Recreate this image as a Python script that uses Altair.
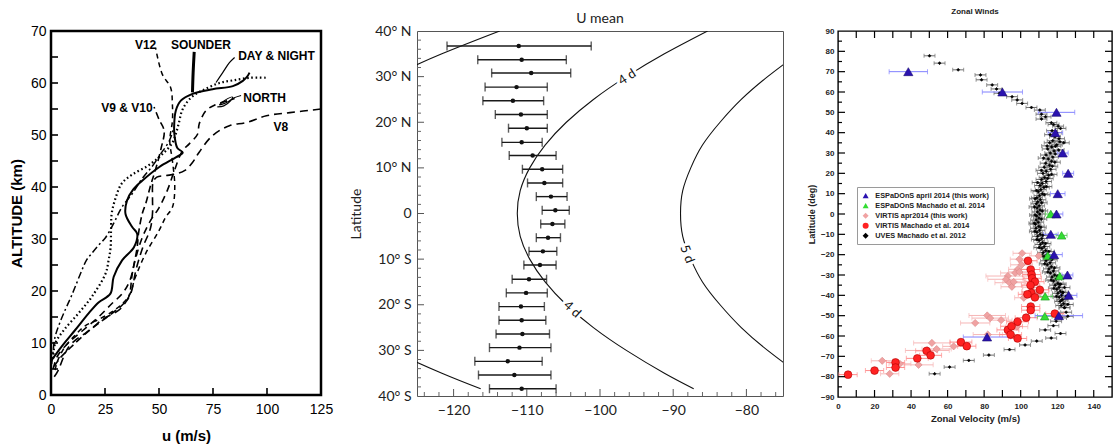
import altair as alt
import pandas as pd

# ---------------------------------------------------------------------------
# Panel 1: probe wind profiles, u (m/s) against altitude (km)
# ---------------------------------------------------------------------------
PROFILE_V8 = [(1.5, 3.5), (3.4, 4.8), (6, 7.5), (8.1, 9.2), (12, 10.8), (16, 11.9), (20, 13.2),
              (23.4, 14.4), (28, 15.5), (31.4, 16.3), (34.5, 17.8), (37, 19.6), (39.3, 24),
              (42.5, 28.4), (46, 32), (47, 35), (47, 38), (47.3, 41), (49, 41.9), (53.1, 42.2),
              (57.8, 42.5), (62, 43.2), (65.5, 44.7), (68.6, 46.7), (74.8, 49.9), (82.6, 51.8),
              (90.4, 52.4), (99.7, 53.7), (110.6, 54.3), (125, 55)]
PROFILE_V12 = [(1.9, 4.8), (3, 6.5), (6.5, 9.3), (10, 11), (15.8, 13.3), (22, 14.5), (30, 16.5),
               (36, 19), (39.1, 22.7), (43.8, 27.2), (50, 31.6), (53.1, 34.2), (56.2, 36.1),
               (57.3, 40), (56.2, 45.1), (55, 48.9), (56.2, 52.7), (56.2, 55.9), (55.4, 59.1),
               (51.5, 61.7), (48.4, 66.8)]
PROFILE_V9_V10 = [(1.5, 5.5), (4, 7), (10, 9.5), (18, 12.5), (26, 15), (33, 17.3), (36, 18.9),
                  (37.6, 23.3), (39.9, 28.4), (40.5, 31), (42.2, 34.8), (44, 37), (46.1, 40.3),
                  (48.5, 43.5), (51, 47.5), (52.4, 50.8), (50, 53), (47.7, 55.4)]
PROFILE_NORTH = [(1, 5), (3, 7.5), (8, 10), (15, 12.5), (22, 15), (28, 17.5), (33, 19.5),
                 (36.5, 22), (39, 26), (42, 30), (46, 33.5), (50, 36), (54, 39.5), (57, 43),
                 (60.9, 47), (64, 48.3), (67.9, 50.2), (68.6, 52.1), (71.8, 54.7), (76, 55.8),
                 (81.8, 56.6), (85, 57)]
PROFILE_DAY_NIGHT = [(1, 7), (1.9, 9.9), (6, 12.5), (12.7, 15.7), (18.9, 18.9), (25.2, 23.3),
                     (26.7, 26), (27.6, 28.4), (27.8, 32), (28.1, 34.9), (30, 38), (32.8, 40.7),
                     (38, 42.5), (45.3, 44.2), (52, 46.5), (56.2, 48.5), (58, 50.5), (59.3, 52.5),
                     (60.5, 54.5), (62.4, 56), (66, 57.6), (71.7, 58.9), (78, 60), (84.2, 60.5),
                     (92, 61), (100.5, 61)]
PROFILE_DASHDOT = [(0.3, 6), (1, 8.5), (1.9, 11.2), (4, 13.8), (6.5, 16.3), (9, 18.6), (11.2, 20.8),
                   (14.3, 24), (16.5, 26), (18.8, 27.2), (22, 28.8), (25.3, 30.3), (29, 33),
                   (32.8, 36.1), (37.6, 38.7), (42, 41.5), (46.9, 44), (51, 46.5), (54.7, 48.8),
                   (57, 51.5)]
PROFILE_SOLID = [(0.3, 6.7), (4.9, 9.3), (11.2, 12.5), (17.4, 15.7), (22, 17.8), (27.5, 19.5),
                 (29, 22.7), (32.9, 25.9), (38.4, 28.4), (39.9, 31), (37.6, 32.3), (34.5, 34.8),
                 (35.2, 37.4), (38, 39.5), (42.2, 41.2), (50, 43.8), (57.8, 45.7), (61, 46.6),
                 (58.5, 47.5), (57.3, 49.5), (57, 51.5), (57.8, 54.7), (60.1, 56.6), (65.5, 57.9),
                 (74.8, 58.8), (84.2, 59.4), (88.8, 60.4), (91.1, 61.4), (91.9, 62)]
PROFILE_SOUNDER = [(65.5, 58.2), (65.8, 62), (66.3, 66)]
LEADER_DAY_NIGHT = [(76.4, 60.1), (79.5, 62), (82.6, 63.9), (85, 64.9)]
LEADER_NORTH = [(77, 55.4), (80, 55.6), (83, 56.5), (84, 57.3), (81, 56.8), (78, 55.8), (81.5, 56.3),
                (84.5, 57.1), (88, 57.6)]

P1_LABELS = ["V12", "SOUNDER", "DAY & NIGHT", "V9 & V10", "NORTH", "V8"]
P1_LABEL_U = [43.8, 69.4, 104.4, 35.2, 98.9, 106.4]
P1_LABEL_ALT = [67.3, 67.3, 65.2, 55.2, 57.2, 51.5]

P1_X_TICKS = [0, 25, 50, 75, 100, 125]
P1_Y_TICKS = [0, 10, 20, 30, 40, 50, 60, 70]

# ---------------------------------------------------------------------------
# Panel 2: mean zonal wind by latitude with rotation-period contours
# ---------------------------------------------------------------------------
P2_LAT = [36.7, 33.7, 30.8, 27.7, 24.7, 21.7, 18.7, 15.6, 12.7, 9.7, 6.7, 3.7, 0.7, -2.3, -5.3,
          -8.3, -11.3, -14.4, -17.4, -20.4, -23.4, -26.4, -29.4, -32.4, -35.4, -38.4]
P2_U = [-111.1, -110.7, -109.4, -111.4, -111.9, -110.8, -110.0, -110.7, -109.2, -107.9, -107.6,
        -106.7, -106.1, -106.5, -107.1, -107.8, -108.2, -109.7, -110.1, -110.8, -110.7, -110.6,
        -111.0, -112.6, -111.7, -110.7]
P2_U_LO = [-120.9, -116.7, -114.8, -115.7, -116.0, -114.3, -112.5, -113.4, -112.4, -110.6, -109.9,
           -108.7, -107.9, -108.1, -108.7, -109.7, -110.4, -112.0, -112.8, -113.8, -113.8, -114.2,
           -115.1, -117.1, -116.6, -115.1]
P2_U_HI = [-101.2, -104.6, -104.0, -107.2, -107.7, -107.2, -107.2, -107.9, -106.0, -105.1, -105.1,
           -104.5, -104.2, -104.8, -105.4, -105.9, -106.0, -107.3, -107.2, -107.6, -107.4, -106.9,
           -106.7, -107.9, -106.7, -106.0]

CONTOUR_LAT = [-38.4, -35, -30, -25, -20, -15, -10, -5, 0, 5, 10, 15, 20, 25, 30, 35, 40]
CONTOUR_3D = [-116.3, -121.6, -128.5, -134.5, -139.5, -143.3, -146.1, -147.8, -148.4, -147.8,
              -146.1, -143.3, -139.5, -134.5, -128.5, -121.6, -113.7]
CONTOUR_4D = [-87.2, -91.2, -96.4, -100.9, -104.6, -107.5, -109.6, -110.9, -111.3, -110.9, -109.6,
              -107.5, -104.6, -100.9, -96.4, -91.2, -85.3]
CONTOUR_5D = [-69.7, -72.9, -77.1, -80.7, -83.6, -86.0, -87.6, -88.7, -89.0, -88.7, -87.6, -86.0,
              -83.6, -80.7, -77.1, -72.9, -68.2]

CONTOUR_LABELS = ["4 d", "4 d", "5 d"]
CONTOUR_LABEL_U = [-96.3, -103.8, -88.1]
CONTOUR_LABEL_LAT = [29.9, -21.0, -8.9]
CONTOUR_LABEL_ANGLE = [327, 42, 69]

# ---------------------------------------------------------------------------
# Panel 3: zonal winds against latitude from several data sets (u, lat, error)
# ---------------------------------------------------------------------------
ESPADONS_2014 = [(38.5, 70, 10.5), (90, 60, 11), (119.6, 50, 10), (119, 40, 4), (123, 30, 3),
                 (126, 20, 3), (120.3, 10, 4), (119.6, 0, 3.5), (116.5, -10, 4), (118.3, -20, 4.5),
                 (125.6, -30, 3), (126.3, -40, 4.5), (120.9, -50, 13), (81.6, -60.5, 13)]
ESPADONS_MACHADO = [(116.5, 0, 3), (122.4, -10.5, 3), (114.8, -20.5, 3), (121.4, -30.5, 3),
                    (113.4, -40.5, 4), (113.2, -50.3, 4)]
VIRTIS_APR2014 = [(24.2, -72.2, 6), (28.3, -78.6, 5), (33.9, -73.7, 6), (44.1, -74.2, 8),
                  (48.9, -67.1, 12), (51.4, -63.4, 10), (54, -66.4, 8), (63.3, -65.1, 6),
                  (75.1, -53.6, 8), (81.7, -49.9, 10), (83.3, -51.2, 10), (82, -59.3, 8),
                  (89.3, -52.2, 6), (97.9, -55.4, 6), (93, -30.5, 12), (92, -32.1, 10),
                  (93.9, -33.8, 8), (95.2, -35.8, 6), (96.2, -33.4, 6), (98.4, -27.2, 5),
                  (99.3, -22.2, 5), (100.8, -19.3, 5), (109.9, -20.6, 5), (110.3, -38.7, 5),
                  (106.6, -38.1, 6), (101.7, -41.2, 5), (97, -29, 8), (100.5, -25, 6),
                  (99.3, -28.5, 6), (106, -36, 5)]
VIRTIS_MACHADO = [(5.5, -79, 5), (20, -77, 5), (31.5, -73, 5), (31.5, -75.5, 5), (43.4, -71, 6),
                  (48.5, -67.3, 6), (50.7, -69.5, 6), (67.3, -63, 6), (70.5, -65, 5), (93, -57, 6),
                  (94.5, -59.3, 6), (98.3, -61.2, 5), (98.3, -53, 6), (95, -55.2, 6), (103, -51, 6),
                  (118.7, -49, 5), (105.5, -45.5, 5), (105.5, -47.3, 5), (104, -23, 5),
                  (105.5, -27.3, 5), (106, -29.8, 5), (106.3, -31.6, 5), (107.8, -33.3, 5),
                  (105.4, -35, 5), (110.5, -37.3, 5), (105.8, -38.8, 5), (107.8, -41, 5),
                  (103.7, -39.5, 5)]
UVES_HIGH = [(50.1, 77.8), (55.6, 74.2), (65.8, 70.9), (78, 68.4), (78.6, 66), (84.4, 63.5),
             (86.8, 61.5), (88.4, 59.4), (95.3, 57.7), (98.1, 56.1), (100.8, 54.4), (105.9, 52.4),
             (110.5, 51.1), (111.4, 49.1), (111.4, 46.7), (113.6, 47.8), (116.8, 44.9),
             (120.5, 43.2), (121.8, 42.1), (118, 44), (123.6, 35), (119, 33.3)]
UVES_EQUATORIAL_LAT = [41, 40, 39, 38, 37, 36, 35, 34, 33, 32, 31, 30, 29, 28, 27, 26, 25, 24, 23,
                       22, 21, 20, 19, 18, 17, 16, 15, 14, 13, 12, 11, 10, 9, 8, 7, 6, 5, 4, 3, 2,
                       1, 0, -1, -2, -3, -4, -5, -6, -7, -8, -9, -10, -11, -12, -13, -14, -15, -16,
                       -17, -18, -19, -20, -21, -22, -23, -24, -25, -26, -27, -28, -29, -30, -31,
                       -32, -33, -34, -35, -36, -37, -38, -39, -40, -41, -42, -43, -44, -45, -46]
UVES_EQUATORIAL_U = [117.2, 119.5, 116.1, 118.8, 121.0, 117.5, 115.9, 119.8, 117.0, 114.8, 118.3,
                     116.2, 113.9, 117.6, 115.1, 116.9, 113.7, 115.8, 112.9, 116.4, 114.0, 112.2,
                     115.3, 113.1, 111.4, 113.9, 111.8, 110.6, 112.7, 111.0, 109.7, 111.9, 110.3,
                     108.9, 110.8, 109.4, 108.6, 110.1, 109.0, 110.6, 109.2, 110.4, 108.8, 110.0,
                     108.5, 109.6, 108.1, 109.9, 108.4, 110.3, 108.9, 110.7, 109.3, 111.5, 110.1,
                     112.0, 110.8, 112.9, 111.6, 113.7, 112.3, 114.5, 113.0, 115.2, 113.9, 116.1,
                     114.6, 116.8, 115.5, 117.9, 116.3, 118.6, 117.2, 119.4, 118.0, 120.3, 118.9,
                     121.0, 119.8, 121.7, 120.4, 122.4, 121.1, 123.0, 121.6, 123.5, 122.2, 124.0]
UVES_SCATTER_LAT = [35.5, 33.5, 31.5, 29.5, 27.5, 25.5, 23.5, 21.5, 19.5, 17.5, 15.5, 13.5, 11.5,
                    9.5, 7.5, 5.5, 3.5, 1.5, -0.5, -2.5, -4.5, -6.5, -8.5, -10.5, -12.5, -14.5,
                    -16.5, -18.5, -20.5, -22.5, -24.5, -26.5, -28.5, -30.5, -32.5, -34.5, -36.5,
                    -38.5, -40.5]
UVES_SCATTER_U = [121.5, 114.5, 120.8, 118.9, 112.6, 118.7, 117.3, 111.4, 116.9, 114.8, 109.3,
                  114.1, 108.7, 113.0, 107.9, 111.5, 107.6, 111.8, 107.9, 111.3, 107.5, 111.0,
                  107.8, 112.1, 108.9, 113.6, 110.2, 115.4, 111.9, 117.0, 113.2, 118.5, 114.9,
                  120.1, 116.7, 121.9, 118.2, 123.1, 119.6]
UVES_LOW = [(52.9, -78.6), (61.1, -75.3), (71.6, -72), (82.6, -69.4), (93.9, -66.7), (102.4, -64.4),
            (108.8, -62.5), (116.7, -61), (121.8, -58.8), (113.4, -57), (117.9, -54.9),
            (119.4, -52.7), (122.1, -51.1), (125.8, -50.3), (124.9, -48.3), (124, -46.1),
            (125.8, -44.5), (122.5, -42.3), (124.9, -40.4), (123, -38.7), (124, -36.2),
            (121.2, -34.6)]
UVES_ERROR = 3.0

SERIES = ["ESPaDOnS april 2014 (this work)", "ESPaDOnS Machado et al. 2014",
          "VIRTIS apr2014 (this work)", "VIRTIS Machado et al. 2014", "UVES Machado et al. 2012"]
SERIES_FILL = ["#2a12b0", "#33dd33", "#f0a2a2", "#ff2222", "#000000"]
SERIES_STROKE = ["#1a0a70", "#1f9a1f", "#d88888", "#b00000", "#000000"]
SERIES_SHAPE = ["triangle-up", "triangle-up", "diamond", "circle", "diamond"]
SERIES_SIZE = [85, 75, 52, 60, 9]
SERIES_BAR = ["#8080ff", "#55cc55", "#f6b6b6", "#ff8c8c", "#6e6e6e"]

# ---------------------------------------------------------------------------
# geometry and fonts
# ---------------------------------------------------------------------------
W1, H1 = 270, 364
W2, H2 = 366, 365
W3, H3 = 274, 366
FONT1 = "Liberation Sans"
FONT2 = "Lato"
FONT3 = "Liberation Sans"


def path_frame(points, name):
    return pd.DataFrame({"u": [p[0] for p in points], "alt": [p[1] for p in points],
                         "k": list(range(len(points))), "name": name})


# ======================= panel 1 =======================
x1 = alt.Scale(domain=[0, 125], nice=False, zero=False)
y1 = alt.Scale(domain=[0, 70], nice=False, zero=False)
x1_axis = alt.Axis(values=P1_X_TICKS, ticks=False, domain=False, grid=False, labelFlush=False,
                   labelFont=FONT1, labelFontSize=14, labelColor="#000", labelPadding=7,
                   title="u (m/s)", titleFont=FONT1, titleFontSize=15, titleFontWeight="bold",
                   titleColor="#000", titlePadding=12)
y1_axis = alt.Axis(values=P1_Y_TICKS, ticks=False, domain=False, grid=False, labelFlush=False,
                   labelFont=FONT1, labelFontSize=14, labelColor="#000", labelPadding=5,
                   title="ALTITUDE (km)", titleFont=FONT1, titleFontSize=15,
                   titleFontWeight="bold", titleColor="#000", titlePadding=6)


def X1(field):
    return alt.X(field, scale=x1, axis=x1_axis)


def Y1(field):
    return alt.Y(field, scale=y1, axis=y1_axis)


def profile(points, name, width, dash=None):
    kw = dict(color="black", strokeWidth=width, interpolate="catmull-rom", clip=True)
    if dash is not None:
        kw["strokeDash"] = dash
    return alt.Chart(path_frame(points, name)).mark_line(**kw).encode(
        x=X1("u:Q"), y=Y1("alt:Q"), order=alt.Order("k:Q"))


p1_lines = [
    profile(PROFILE_SOLID, "solid", 2.0),
    profile(PROFILE_V8, "V8", 1.6, [8, 5]),
    profile(PROFILE_V12, "V12", 1.5, [5, 4]),
    profile(PROFILE_V9_V10, "V9 & V10", 1.6, [7, 4]),
    profile(PROFILE_NORTH, "NORTH", 1.6, [7, 5]),
    profile(PROFILE_DAY_NIGHT, "DAY & NIGHT", 2.2, [1.6, 2.6]),
    profile(PROFILE_DASHDOT, "dash-dot", 1.5, [7, 3, 2, 3]),
    profile(PROFILE_SOUNDER, "SOUNDER", 3.0),
    profile(LEADER_DAY_NIGHT, "leader day", 1.2),
    profile(LEADER_NORTH, "leader north", 1.1),
]

p1_text = alt.Chart(pd.DataFrame({"t": P1_LABELS, "u": P1_LABEL_U, "alt": P1_LABEL_ALT})).mark_text(
    font=FONT1, fontSize=12, fontWeight="bold", color="black", align="center", baseline="middle"
).encode(x=X1("u:Q"), y=Y1("alt:Q"), text="t:N")

p1_ticks_left = alt.Chart(pd.DataFrame({"alt": [5, 10, 15, 20, 25, 30, 35, 40, 45, 50, 55, 60, 65]})).mark_rule(
    color="black", strokeWidth=1.6
).encode(y=Y1("alt:Q"), x=alt.value(0), x2=alt.value(7))
p1_ticks_bottom = alt.Chart(pd.DataFrame({"u": [25, 50, 75, 100]})).mark_rule(
    color="black", strokeWidth=1.6
).encode(x=X1("u:Q"), y=alt.value(H1), y2=alt.value(H1 - 7))

panel1 = alt.layer(*p1_lines, p1_text, p1_ticks_left, p1_ticks_bottom).properties(
    width=W1, height=H1, view=alt.ViewBackground(stroke="black", strokeWidth=2.5)
)

# ======================= panel 2 =======================
x2 = alt.Scale(domain=[-125, -75], nice=False, zero=False)
y2 = alt.Scale(domain=[-40, 40], nice=False, zero=False)
x2_axis = alt.Axis(values=[-120, -110, -100, -90, -80], ticks=False, domain=False, grid=False,
                   labelFlush=False, labelFont=FONT2, labelFontSize=14, labelColor="#222",
                   labelPadding=7, title=None)
y2_axis = alt.Axis(values=[-40, -30, -20, -10, 0, 10, 20, 30, 40], ticks=False, domain=False,
                   grid=False, labelFlush=False, labelOverlap=False, labelFont=FONT2,
                   labelFontSize=14, labelColor="#222", labelPadding=6,
                   labelExpr="datum.value == 0 ? '0' : abs(datum.value) + '\u00b0 ' + (datum.value > 0 ? 'N' : 'S')",
                   title="Latitude", titleFont=FONT2, titleFontSize=14, titleFontWeight="normal",
                   titleColor="#222", titlePadding=11)


def X2(field):
    return alt.X(field, scale=x2, axis=x2_axis)


def Y2(field):
    return alt.Y(field, scale=y2, axis=y2_axis)


contour_rows = []
for period, values in (("3 d", CONTOUR_3D), ("4 d", CONTOUR_4D), ("5 d", CONTOUR_5D)):
    for k, (lat, u) in enumerate(zip(CONTOUR_LAT, values)):
        contour_rows.append({"period": period, "lat": lat, "u": u, "k": k})
contours = alt.Chart(pd.DataFrame(contour_rows)).mark_line(
    color="#111", strokeWidth=1.1, interpolate="natural", clip=True
).encode(x=X2("u:Q"), y=Y2("lat:Q"), detail="period:N", order=alt.Order("k:Q"))

label_df = pd.DataFrame({"t": CONTOUR_LABELS, "u": CONTOUR_LABEL_U, "lat": CONTOUR_LABEL_LAT,
                         "a": CONTOUR_LABEL_ANGLE})
label_halo = alt.Chart(label_df).mark_text(
    font=FONT2, fontSize=13, color="white", stroke="white", strokeWidth=6, align="center",
    baseline="middle"
).encode(x=X2("u:Q"), y=Y2("lat:Q"), text="t:N", angle=alt.Angle("a:Q", scale=None))
label_text = alt.Chart(label_df).mark_text(
    font=FONT2, fontSize=13, color="#111", align="center", baseline="middle"
).encode(x=X2("u:Q"), y=Y2("lat:Q"), text="t:N", angle=alt.Angle("a:Q", scale=None))

means = pd.DataFrame({"lat": P2_LAT, "u": P2_U, "lo": P2_U_LO, "hi": P2_U_HI})
bars2 = alt.Chart(means).mark_rule(color="#1a1a1a", strokeWidth=1.4).encode(
    x=X2("lo:Q"), x2="hi:Q", y=Y2("lat:Q"))
caps2_lo = alt.Chart(means).mark_tick(orient="vertical", color="#1a1a1a", size=9, thickness=1.4).encode(
    x=X2("lo:Q"), y=Y2("lat:Q"))
caps2_hi = alt.Chart(means).mark_tick(orient="vertical", color="#1a1a1a", size=9, thickness=1.4).encode(
    x=X2("hi:Q"), y=Y2("lat:Q"))
dots2 = alt.Chart(means).mark_point(shape="circle", filled=True, color="#111", size=20, opacity=1).encode(
    x=X2("u:Q"), y=Y2("lat:Q"))

lat_minor = [v for v in range(-38, 39, 2) if v % 10 != 0]
lat_major = [-30, -20, -10, 0, 10, 20, 30]
u_minor = [v for v in range(-124, -75, 2) if v % 10 != 0]
u_major = [-120, -110, -100, -90, -80]
p2_ticks = [
    alt.Chart(pd.DataFrame({"lat": lat_minor})).mark_rule(color="#666", strokeWidth=1).encode(
        y=Y2("lat:Q"), x=alt.value(0), x2=alt.value(4)),
    alt.Chart(pd.DataFrame({"lat": lat_major})).mark_rule(color="#555", strokeWidth=1).encode(
        y=Y2("lat:Q"), x=alt.value(0), x2=alt.value(7)),
    alt.Chart(pd.DataFrame({"u": u_minor})).mark_rule(color="#666", strokeWidth=1).encode(
        x=X2("u:Q"), y=alt.value(H2), y2=alt.value(H2 - 4)),
    alt.Chart(pd.DataFrame({"u": u_major})).mark_rule(color="#555", strokeWidth=1).encode(
        x=X2("u:Q"), y=alt.value(H2), y2=alt.value(H2 - 7)),
]

panel2 = alt.layer(contours, label_halo, label_text, bars2, caps2_lo, caps2_hi, dots2, *p2_ticks).properties(
    width=W2, height=H2, view=alt.ViewBackground(stroke="#555", strokeWidth=1),
    title=alt.TitleParams("U mean", font=FONT2, fontSize=14, fontWeight="normal", color="#222",
                          anchor="middle", offset=-2),
)

# ======================= panel 3 =======================
x3 = alt.Scale(domain=[0, 150], nice=False, zero=False)
y3 = alt.Scale(domain=[-90, 90], nice=False, zero=False)
x3_axis = alt.Axis(values=list(range(0, 141, 20)), ticks=False, domain=False, grid=False,
                   labelFlush=False, labelFont=FONT3, labelFontSize=8, labelFontWeight="bold",
                   labelColor="#222", labelPadding=5, title="Zonal Velocity (m/s)",
                   titleFont=FONT3, titleFontSize=9.5, titleFontWeight="bold", titleColor="#222",
                   titlePadding=3)
y3_axis = alt.Axis(values=list(range(-90, 91, 10)), ticks=False, domain=False, grid=False,
                   labelFlush=False, labelOverlap=False, labelFont=FONT3, labelFontSize=8,
                   labelFontWeight="bold", labelColor="#222", labelPadding=4,
                   title="Latitude (deg)", titleFont=FONT3, titleFontSize=9,
                   titleFontWeight="bold", titleColor="#222", titlePadding=4)


def X3(field):
    return alt.X(field, scale=x3, axis=x3_axis)


def Y3(field):
    return alt.Y(field, scale=y3, axis=y3_axis)


uves = ([(u, lat, UVES_ERROR) for u, lat in UVES_HIGH]
        + [(u, lat, UVES_ERROR) for lat, u in zip(UVES_EQUATORIAL_LAT, UVES_EQUATORIAL_U)]
        + [(u, lat, UVES_ERROR) for lat, u in zip(UVES_SCATTER_LAT, UVES_SCATTER_U)]
        + [(u, lat, UVES_ERROR) for u, lat in UVES_LOW])
series_points = {
    SERIES[4]: uves,
    SERIES[2]: VIRTIS_APR2014,
    SERIES[3]: VIRTIS_MACHADO,
    SERIES[1]: ESPADONS_MACHADO,
    SERIES[0]: ESPADONS_2014,
}
rows = []
for name, pts in series_points.items():
    i = SERIES.index(name)
    for u, lat, err in pts:
        rows.append({"series": name, "u": u, "lat": lat, "lo": u - err, "hi": u + err,
                     "sz": SERIES_SIZE[i], "edge": SERIES_STROKE[i]})
obs = pd.DataFrame(rows)

p3_layers = []
for name in series_points:
    i = SERIES.index(name)
    sub = obs[obs["series"] == name]
    cap = 4 if i == 4 else 5
    p3_layers.append(alt.Chart(sub).mark_rule(color=SERIES_BAR[i], strokeWidth=1).encode(
        x=X3("lo:Q"), x2="hi:Q", y=Y3("lat:Q")))
    for end in ("lo", "hi"):
        p3_layers.append(alt.Chart(sub).mark_tick(orient="vertical", color=SERIES_BAR[i], size=cap,
                                                  thickness=1).encode(
            x=X3(f"{end}:Q"), y=Y3("lat:Q")))

# legend box sits inside the right-hand plot; offsets are from the first panel's origin
legend3 = alt.Legend(title=None, orient="none", legendX=806, legendY=156, labelFont=FONT3,
                     labelFontSize=7.3, labelFontWeight="bold", labelColor="#222", symbolSize=36,
                     symbolStrokeWidth=0, rowPadding=2, padding=5, labelOffset=6,
                     strokeColor="#9a9a9a", fillColor="white", cornerRadius=0)
points3 = alt.Chart(obs).mark_point(filled=True, opacity=1, strokeWidth=0.6).encode(
    x=X3("u:Q"),
    y=Y3("lat:Q"),
    fill=alt.Fill("series:N", scale=alt.Scale(domain=SERIES, range=SERIES_FILL), legend=legend3),
    shape=alt.Shape("series:N", scale=alt.Scale(domain=SERIES, range=SERIES_SHAPE), legend=legend3),
    stroke=alt.Stroke("edge:N", scale=None, legend=None),
    size=alt.Size("sz:Q", scale=None, legend=None),
)

lat_ticks_major = list(range(-80, 81, 10))
lat_ticks_minor = list(range(-85, 86, 10))
u_ticks = list(range(10, 141, 10))
p3_ticks = []
for vals, length in ((lat_ticks_major, 7), (lat_ticks_minor, 4)):
    df = pd.DataFrame({"lat": vals})
    p3_ticks.append(alt.Chart(df).mark_rule(color="black", strokeWidth=1.2).encode(
        y=Y3("lat:Q"), x=alt.value(0), x2=alt.value(length)))
    p3_ticks.append(alt.Chart(df).mark_rule(color="black", strokeWidth=1.2).encode(
        y=Y3("lat:Q"), x=alt.value(W3), x2=alt.value(W3 - length)))
df_u = pd.DataFrame({"u": u_ticks})
p3_ticks.append(alt.Chart(df_u).mark_rule(color="black", strokeWidth=1.2).encode(
    x=X3("u:Q"), y=alt.value(H3), y2=alt.value(H3 - 7)))
p3_ticks.append(alt.Chart(df_u).mark_rule(color="black", strokeWidth=1.2).encode(
    x=X3("u:Q"), y=alt.value(0), y2=alt.value(7)))

panel3 = alt.layer(*p3_layers, points3, *p3_ticks).properties(
    width=W3, height=H3, view=alt.ViewBackground(stroke="black", strokeWidth=1.4),
    title=alt.TitleParams("Zonal Winds", font=FONT3, fontSize=8, fontWeight="bold", color="#222",
                          anchor="middle", offset=11),
)

right_pair = alt.hconcat(panel2, panel3, spacing=55, bounds="flush")
chart = alt.hconcat(panel1, right_pair, spacing=96, bounds="flush").properties(
    padding={"left": 8, "top": 7, "right": 0, "bottom": 0}, background="white"
)

chart.save("out.html", embed_options={"renderer": "svg", "actions": False})
